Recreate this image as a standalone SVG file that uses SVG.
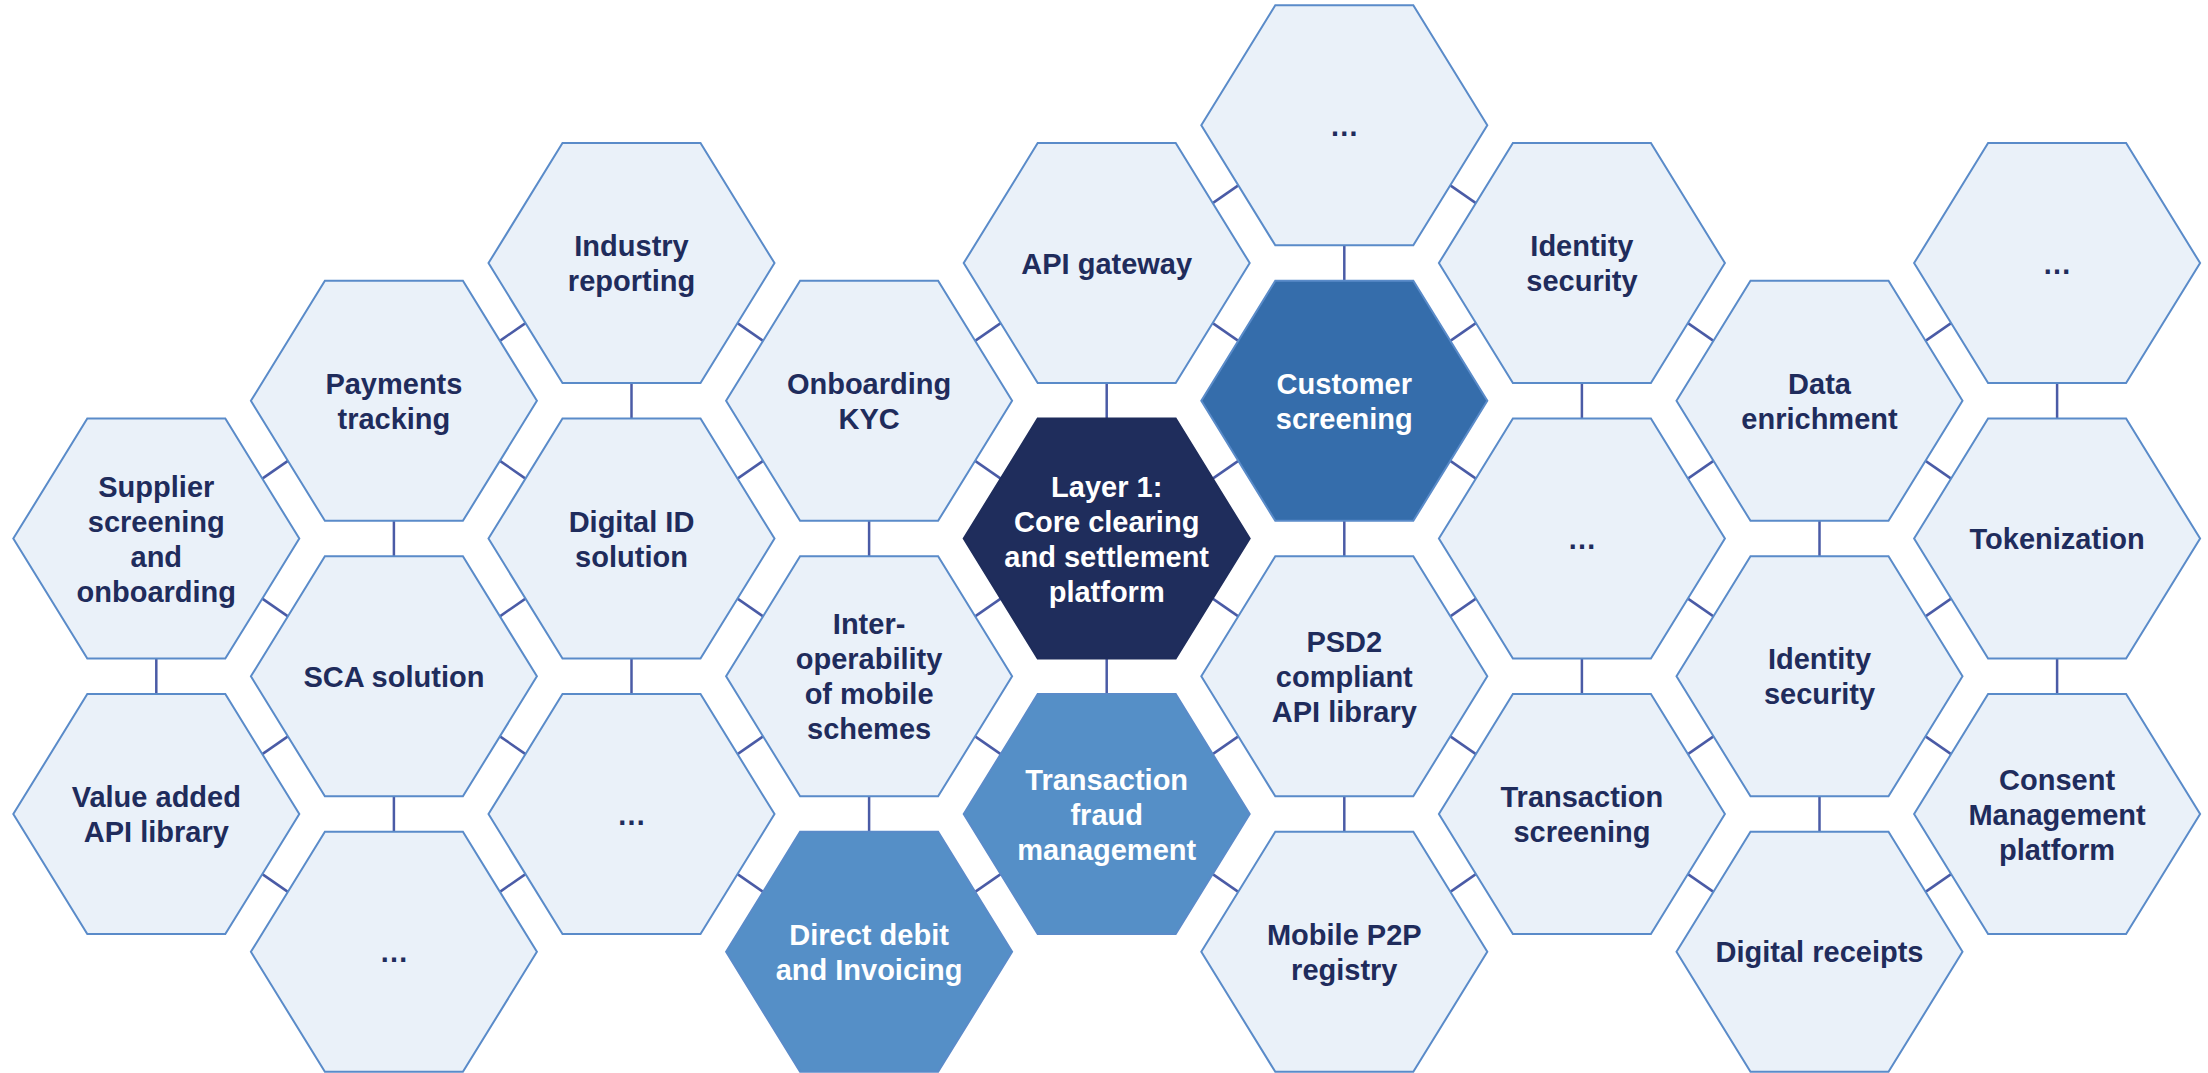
<svg xmlns="http://www.w3.org/2000/svg" xmlns:xlink="http://www.w3.org/1999/xlink" width="2208" height="1073" viewBox="0 0 2208 1073">
  <defs>
    <polygon id="hex" points="-143,0 -69,-120 69,-120 143,0 69,120 -69,120"/>
    <style>
      .hex { fill: #EAF1F9; stroke: #5A8BC9; stroke-width: 2; }
      .hex.mid { fill: #356DAB; }
      .hex.soft { fill: #558FC7; }
      .hex.core { fill: #1F2D5C; stroke: #1F2D5C; }
      .lbl { font-family: "Liberation Sans", Arial, sans-serif; font-weight: bold; font-size: 29px; fill: #1F2C5C; text-anchor: middle; }
      .lbl.inv { fill: #FFFFFF; }
      .conn line { stroke: #4A5BA6; stroke-width: 2.5; }
    </style>
  </defs>
  <rect width="2208" height="1073" fill="#FFFFFF"/>

  <!-- links between neighbouring cells -->
  <g id="connectors" class="conn">
    <!-- vertical links -->
    <line x1="156.3" y1="658.6" x2="156.3" y2="694.1"/>
    <line x1="393.9" y1="520.85" x2="393.9" y2="556.35"/>
    <line x1="393.9" y1="796.35" x2="393.9" y2="831.85"/>
    <line x1="631.5" y1="383.1" x2="631.5" y2="418.6"/>
    <line x1="631.5" y1="658.6" x2="631.5" y2="694.1"/>
    <line x1="869.1" y1="520.85" x2="869.1" y2="556.35"/>
    <line x1="869.1" y1="796.35" x2="869.1" y2="831.85"/>
    <line x1="1106.7" y1="383.1" x2="1106.7" y2="418.6"/>
    <line x1="1106.7" y1="658.6" x2="1106.7" y2="694.1"/>
    <line x1="1344.3" y1="245.35" x2="1344.3" y2="280.85"/>
    <line x1="1344.3" y1="520.85" x2="1344.3" y2="556.35"/>
    <line x1="1344.3" y1="796.35" x2="1344.3" y2="831.85"/>
    <line x1="1581.9" y1="383.1" x2="1581.9" y2="418.6"/>
    <line x1="1581.9" y1="658.6" x2="1581.9" y2="694.1"/>
    <line x1="1819.5" y1="520.85" x2="1819.5" y2="556.35"/>
    <line x1="1819.5" y1="796.35" x2="1819.5" y2="831.85"/>
    <line x1="2057.1" y1="383.1" x2="2057.1" y2="418.6"/>
    <line x1="2057.1" y1="658.6" x2="2057.1" y2="694.1"/>

    <!-- column 1 to 2 -->
    <line x1="262.3" y1="478.6" x2="287.9" y2="460.85"/>
    <line x1="262.3" y1="598.6" x2="287.9" y2="616.35"/>
    <line x1="262.3" y1="754.1" x2="287.9" y2="736.35"/>
    <line x1="262.3" y1="874.1" x2="287.9" y2="891.85"/>
    <!-- column 2 to 3 -->
    <line x1="499.9" y1="340.85" x2="525.5" y2="323.1"/>
    <line x1="499.9" y1="460.85" x2="525.5" y2="478.6"/>
    <line x1="499.9" y1="616.35" x2="525.5" y2="598.6"/>
    <line x1="499.9" y1="736.35" x2="525.5" y2="754.1"/>
    <line x1="499.9" y1="891.85" x2="525.5" y2="874.1"/>
    <!-- column 3 to 4 -->
    <line x1="737.5" y1="323.1" x2="763.1" y2="340.85"/>
    <line x1="737.5" y1="478.6" x2="763.1" y2="460.85"/>
    <line x1="737.5" y1="598.6" x2="763.1" y2="616.35"/>
    <line x1="737.5" y1="754.1" x2="763.1" y2="736.35"/>
    <line x1="737.5" y1="874.1" x2="763.1" y2="891.85"/>
    <!-- column 4 to 5 -->
    <line x1="975.1" y1="340.85" x2="1000.7" y2="323.1"/>
    <line x1="975.1" y1="460.85" x2="1000.7" y2="478.6"/>
    <line x1="975.1" y1="616.35" x2="1000.7" y2="598.6"/>
    <line x1="975.1" y1="736.35" x2="1000.7" y2="754.1"/>
    <line x1="975.1" y1="891.85" x2="1000.7" y2="874.1"/>
    <!-- column 5 to 6 -->
    <line x1="1212.7" y1="203.1" x2="1238.3" y2="185.35"/>
    <line x1="1212.7" y1="323.1" x2="1238.3" y2="340.85"/>
    <line x1="1212.7" y1="478.6" x2="1238.3" y2="460.85"/>
    <line x1="1212.7" y1="598.6" x2="1238.3" y2="616.35"/>
    <line x1="1212.7" y1="754.1" x2="1238.3" y2="736.35"/>
    <line x1="1212.7" y1="874.1" x2="1238.3" y2="891.85"/>
    <!-- column 6 to 7 -->
    <line x1="1450.3" y1="185.35" x2="1475.9" y2="203.1"/>
    <line x1="1450.3" y1="340.85" x2="1475.9" y2="323.1"/>
    <line x1="1450.3" y1="460.85" x2="1475.9" y2="478.6"/>
    <line x1="1450.3" y1="616.35" x2="1475.9" y2="598.6"/>
    <line x1="1450.3" y1="736.35" x2="1475.9" y2="754.1"/>
    <line x1="1450.3" y1="891.85" x2="1475.9" y2="874.1"/>
    <!-- column 7 to 8 -->
    <line x1="1687.9" y1="323.1" x2="1713.5" y2="340.85"/>
    <line x1="1687.9" y1="478.6" x2="1713.5" y2="460.85"/>
    <line x1="1687.9" y1="598.6" x2="1713.5" y2="616.35"/>
    <line x1="1687.9" y1="754.1" x2="1713.5" y2="736.35"/>
    <line x1="1687.9" y1="874.1" x2="1713.5" y2="891.85"/>
    <!-- column 8 to 9 -->
    <line x1="1925.5" y1="340.85" x2="1951.1" y2="323.1"/>
    <line x1="1925.5" y1="460.85" x2="1951.1" y2="478.6"/>
    <line x1="1925.5" y1="616.35" x2="1951.1" y2="598.6"/>
    <line x1="1925.5" y1="736.35" x2="1951.1" y2="754.1"/>
    <line x1="1925.5" y1="891.85" x2="1951.1" y2="874.1"/>
  </g>

  <!-- column 1 -->
  <g id="supplier-screening">
    <use href="#hex" class="hex" x="156.3" y="538.6"/>
    <text class="lbl"><tspan x="156.3" y="496.5">Supplier</tspan><tspan x="156.3" y="531.5">screening</tspan><tspan x="156.3" y="566.5">and</tspan><tspan x="156.3" y="601.5">onboarding</tspan></text>
  </g>
  <g id="value-added-api">
    <use href="#hex" class="hex" x="156.3" y="814.1"/>
    <text class="lbl"><tspan x="156.3" y="807">Value added</tspan><tspan x="156.3" y="842">API library</tspan></text>
  </g>

  <!-- column 2 -->
  <g id="payments-tracking">
    <use href="#hex" class="hex" x="393.9" y="400.85"/>
    <text class="lbl"><tspan x="393.9" y="393.75">Payments</tspan><tspan x="393.9" y="428.75">tracking</tspan></text>
  </g>
  <g id="sca-solution">
    <use href="#hex" class="hex" x="393.9" y="676.35"/>
    <text class="lbl" x="393.9" y="686.75">SCA solution</text>
  </g>
  <g id="more-c2">
    <use href="#hex" class="hex" x="393.9" y="951.85"/>
    <text class="lbl" x="393.9" y="962.25">…</text>
  </g>

  <!-- column 3 -->
  <g id="industry-reporting">
    <use href="#hex" class="hex" x="631.5" y="263.1"/>
    <text class="lbl"><tspan x="631.5" y="256">Industry</tspan><tspan x="631.5" y="291">reporting</tspan></text>
  </g>
  <g id="digital-id">
    <use href="#hex" class="hex" x="631.5" y="538.6"/>
    <text class="lbl"><tspan x="631.5" y="531.5">Digital ID</tspan><tspan x="631.5" y="566.5">solution</tspan></text>
  </g>
  <g id="more-c3">
    <use href="#hex" class="hex" x="631.5" y="814.1"/>
    <text class="lbl" x="631.5" y="824.5">…</text>
  </g>

  <!-- column 4 -->
  <g id="onboarding-kyc">
    <use href="#hex" class="hex" x="869.1" y="400.85"/>
    <text class="lbl"><tspan x="869.1" y="393.75">Onboarding</tspan><tspan x="869.1" y="428.75">KYC</tspan></text>
  </g>
  <g id="interoperability">
    <use href="#hex" class="hex" x="869.1" y="676.35"/>
    <text class="lbl"><tspan x="869.1" y="634.25">Inter-</tspan><tspan x="869.1" y="669.25">operability</tspan><tspan x="869.1" y="704.25">of mobile</tspan><tspan x="869.1" y="739.25">schemes</tspan></text>
  </g>
  <g id="direct-debit">
    <use href="#hex" class="hex soft" x="869.1" y="951.85"/>
    <text class="lbl inv"><tspan x="869.1" y="944.75">Direct debit</tspan><tspan x="869.1" y="979.75">and Invoicing</tspan></text>
  </g>

  <!-- column 5 -->
  <g id="api-gateway">
    <use href="#hex" class="hex" x="1106.7" y="263.1"/>
    <text class="lbl" x="1106.7" y="273.5">API gateway</text>
  </g>
  <g id="layer-1">
    <use href="#hex" class="hex core" x="1106.7" y="538.6"/>
    <text class="lbl inv"><tspan x="1106.7" y="496.5">Layer 1:</tspan><tspan x="1106.7" y="531.5">Core clearing</tspan><tspan x="1106.7" y="566.5">and settlement</tspan><tspan x="1106.7" y="601.5">platform</tspan></text>
  </g>
  <g id="transaction-fraud">
    <use href="#hex" class="hex soft" x="1106.7" y="814.1"/>
    <text class="lbl inv"><tspan x="1106.7" y="789.5">Transaction</tspan><tspan x="1106.7" y="824.5">fraud</tspan><tspan x="1106.7" y="859.5">management</tspan></text>
  </g>

  <!-- column 6 -->
  <g id="more-c6">
    <use href="#hex" class="hex" x="1344.3" y="125.35"/>
    <text class="lbl" x="1344.3" y="135.75">…</text>
  </g>
  <g id="customer-screening">
    <use href="#hex" class="hex mid" x="1344.3" y="400.85"/>
    <text class="lbl inv"><tspan x="1344.3" y="393.75">Customer</tspan><tspan x="1344.3" y="428.75">screening</tspan></text>
  </g>
  <g id="psd2-api">
    <use href="#hex" class="hex" x="1344.3" y="676.35"/>
    <text class="lbl"><tspan x="1344.3" y="651.75">PSD2</tspan><tspan x="1344.3" y="686.75">compliant</tspan><tspan x="1344.3" y="721.75">API library</tspan></text>
  </g>
  <g id="mobile-p2p">
    <use href="#hex" class="hex" x="1344.3" y="951.85"/>
    <text class="lbl"><tspan x="1344.3" y="944.75">Mobile P2P</tspan><tspan x="1344.3" y="979.75">registry</tspan></text>
  </g>

  <!-- column 7 -->
  <g id="identity-security-1">
    <use href="#hex" class="hex" x="1581.9" y="263.1"/>
    <text class="lbl"><tspan x="1581.9" y="256">Identity</tspan><tspan x="1581.9" y="291">security</tspan></text>
  </g>
  <g id="more-c7">
    <use href="#hex" class="hex" x="1581.9" y="538.6"/>
    <text class="lbl" x="1581.9" y="549">…</text>
  </g>
  <g id="transaction-screening">
    <use href="#hex" class="hex" x="1581.9" y="814.1"/>
    <text class="lbl"><tspan x="1581.9" y="807">Transaction</tspan><tspan x="1581.9" y="842">screening</tspan></text>
  </g>

  <!-- column 8 -->
  <g id="data-enrichment">
    <use href="#hex" class="hex" x="1819.5" y="400.85"/>
    <text class="lbl"><tspan x="1819.5" y="393.75">Data</tspan><tspan x="1819.5" y="428.75">enrichment</tspan></text>
  </g>
  <g id="identity-security-2">
    <use href="#hex" class="hex" x="1819.5" y="676.35"/>
    <text class="lbl"><tspan x="1819.5" y="669.25">Identity</tspan><tspan x="1819.5" y="704.25">security</tspan></text>
  </g>
  <g id="digital-receipts">
    <use href="#hex" class="hex" x="1819.5" y="951.85"/>
    <text class="lbl" x="1819.5" y="962.25">Digital receipts</text>
  </g>

  <!-- column 9 -->
  <g id="more-c9">
    <use href="#hex" class="hex" x="2057.1" y="263.1"/>
    <text class="lbl" x="2057.1" y="273.5">…</text>
  </g>
  <g id="tokenization">
    <use href="#hex" class="hex" x="2057.1" y="538.6"/>
    <text class="lbl" x="2057.1" y="549">Tokenization</text>
  </g>
  <g id="consent-management">
    <use href="#hex" class="hex" x="2057.1" y="814.1"/>
    <text class="lbl"><tspan x="2057.1" y="789.5">Consent</tspan><tspan x="2057.1" y="824.5">Management</tspan><tspan x="2057.1" y="859.5">platform</tspan></text>
  </g>
</svg>
